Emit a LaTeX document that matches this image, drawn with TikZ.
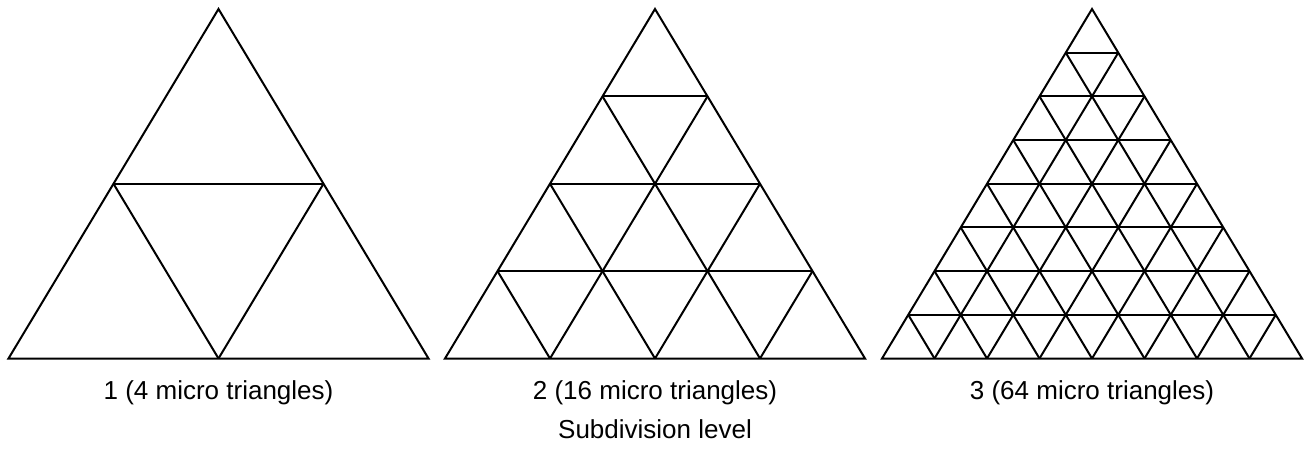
\documentclass[tikz,border=0pt]{standalone}
\usepackage{fontspec}
\setmainfont{Liberation Sans}
\begin{document}
\begin{tikzpicture}[x=0.75pt,y=-0.75pt,
  tri/.style={line width=1.5pt,line join=miter,draw=black},
  lbl/.style={font=\fontsize{19.5}{23}\selectfont,inner sep=0pt,anchor=base}]
\useasboundingbox (0,0) rectangle (1308,450);
\foreach \cx/\N in {218.5/2, 655/4, 1092/8} {
  \pgfmathtruncatemacro{\M}{\N-1}
  \foreach \k in {1,...,\M} {
    \pgfmathsetmacro{\t}{\k/\N}
    \draw[tri] ({\cx-210*\t},{9+349.5*\t}) -- ({\cx+210*\t},{9+349.5*\t});
    \draw[tri] ({\cx-210*\t},{9+349.5*\t}) -- ({\cx+210-420*\t},358.5);
    \draw[tri] ({\cx+210*\t},{9+349.5*\t}) -- ({\cx-210+420*\t},358.5);
  }
  \draw[tri] (\cx,9) -- ({\cx-210},358.5) -- ({\cx+210},358.5) -- cycle;
}
\node[lbl] (l1) at (218.5,399) {1 (4 micro triangles)};
\node[lbl] (l2) at (655,399) {2 (16 micro triangles)};
\node[lbl] (l3) at (1092,399) {3 (64 micro triangles)};
\node[lbl] (sub) at (655,438) {Subdivision level};
\end{tikzpicture}
\end{document}
